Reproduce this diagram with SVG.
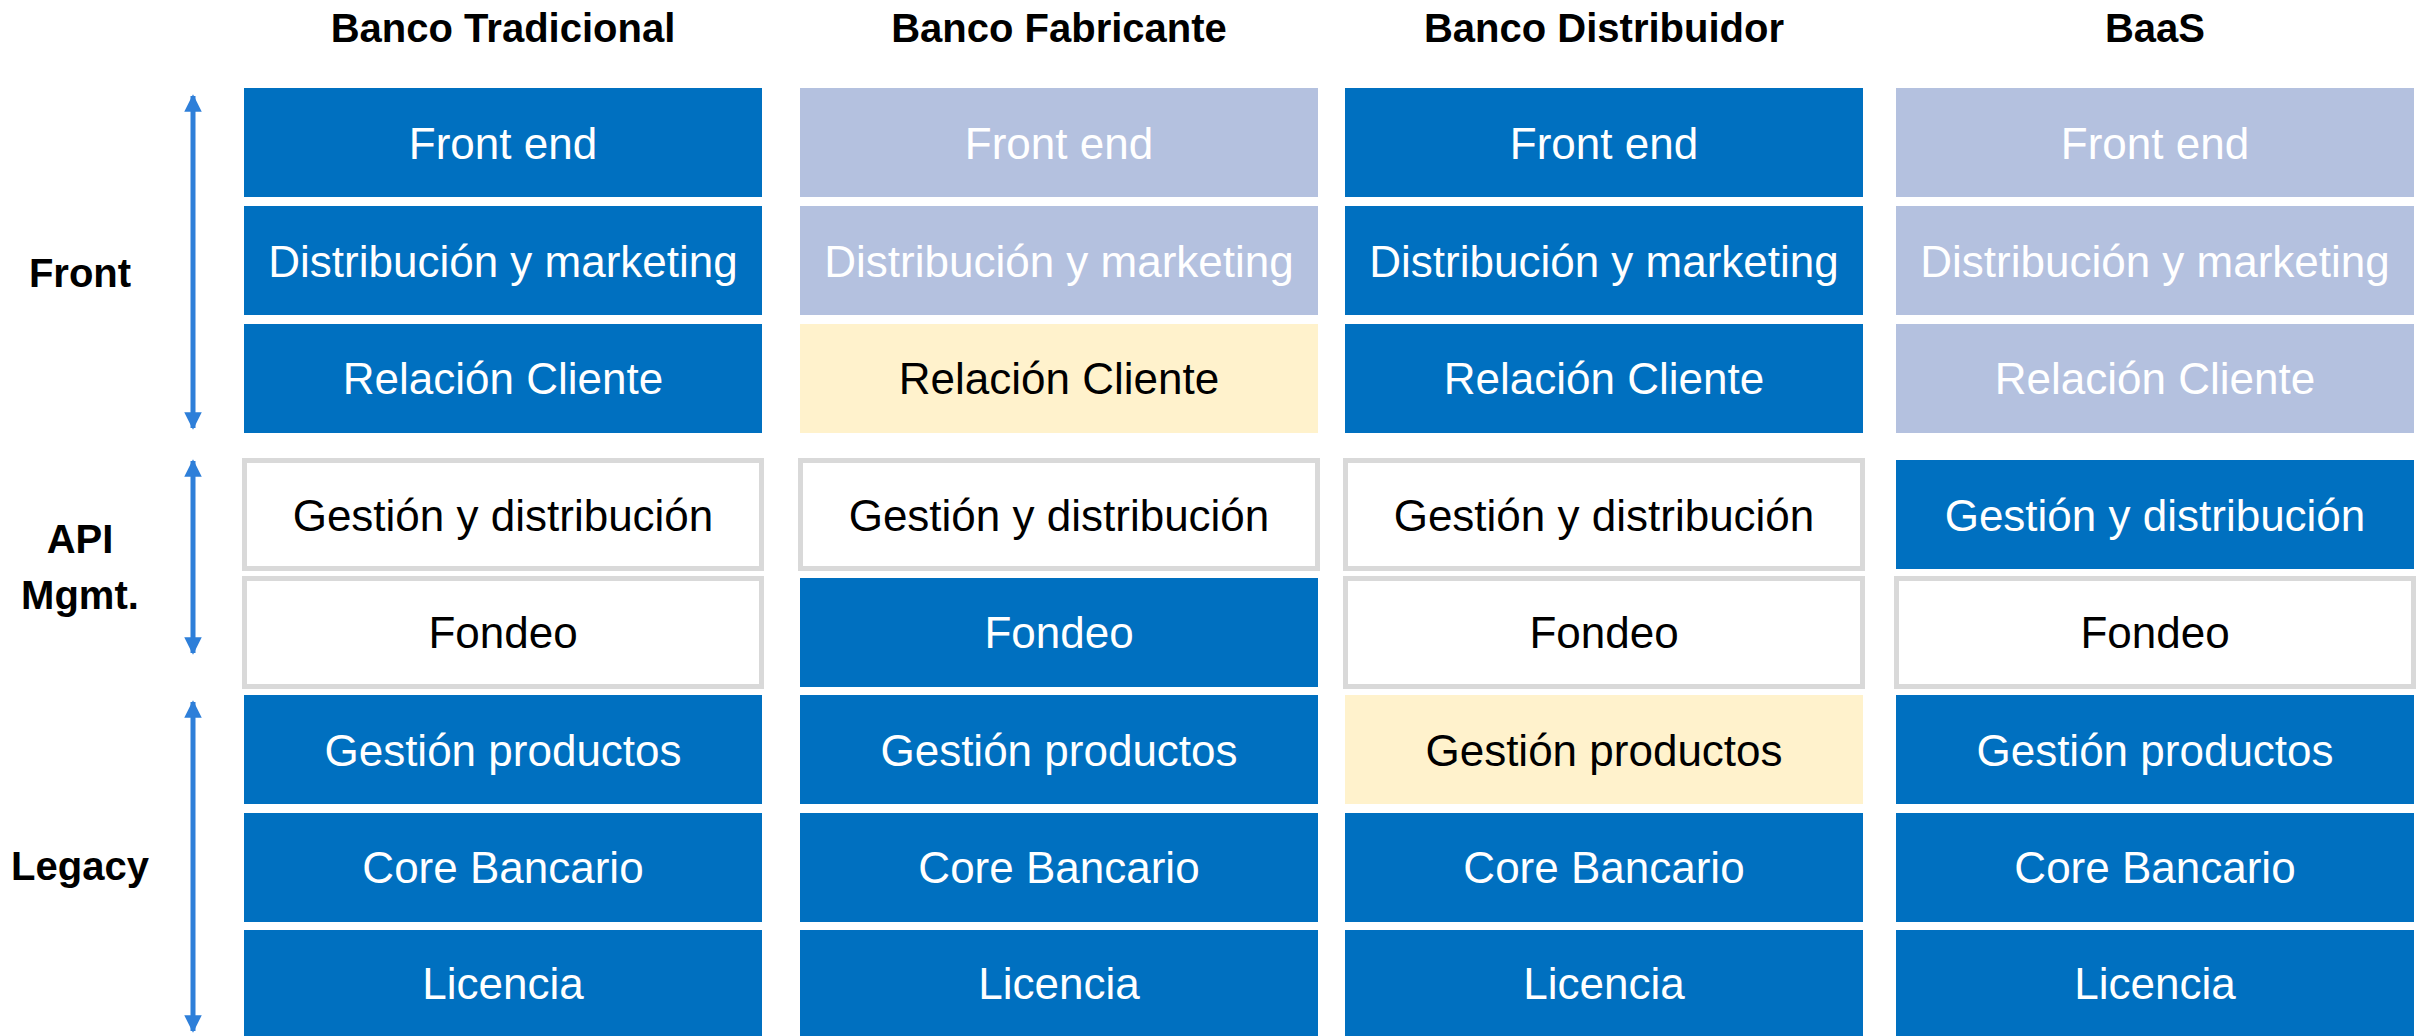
<svg xmlns="http://www.w3.org/2000/svg" width="2425" height="1036" viewBox="0 0 2425 1036">
<defs>
<style>
.hdr{font-family:"Liberation Sans",Arial,sans-serif;font-weight:bold;font-size:40px;fill:#000;text-anchor:middle}
.lbl{font-family:"Liberation Sans",Arial,sans-serif;font-size:44px;text-anchor:middle}
.blue{fill:#0070C0}
.lav{fill:#B4C1DF}
.yel{fill:#FFF2CC}
.gray{fill:#FFFFFF;stroke:#D9D9D9;stroke-width:5}
.w{fill:#FFFFFF}
.k{fill:#000000}
.conn{stroke:#2E7FD9;stroke-width:5;fill:none}
</style>
<marker id="ah" viewBox="0 0 10 10" refX="9" refY="5" markerWidth="3.5" markerHeight="3.5" markerUnits="strokeWidth" orient="auto-start-reverse">
<path d="M0,0 L10,5 L0,10 z" fill="#2E7FD9"/>
</marker>
</defs>
<rect width="2425" height="1036" fill="#FFFFFF"/>

<g id="headers">
<text class="hdr" x="503" y="42">Banco Tradicional</text>
<text class="hdr" x="1059" y="42">Banco Fabricante</text>
<text class="hdr" x="1604" y="42">Banco Distribuidor</text>
<text class="hdr" x="2155" y="42">BaaS</text>
</g>

<g id="layer-labels">
<text class="hdr" x="80" y="287">Front</text>
<text class="hdr" x="80" y="553">API</text>
<text class="hdr" x="80" y="609">Mgmt.</text>
<text class="hdr" x="80" y="880">Legacy</text>
</g>

<g id="connectors">
<line class="conn" x1="193" y1="96" x2="193" y2="428" marker-start="url(#ah)" marker-end="url(#ah)"/>
<line class="conn" x1="193" y1="461" x2="193" y2="653" marker-start="url(#ah)" marker-end="url(#ah)"/>
<line class="conn" x1="193" y1="702" x2="193" y2="1031" marker-start="url(#ah)" marker-end="url(#ah)"/>
</g>

<!-- Column 1: Banco Tradicional -->
<g id="c1-front-end"><rect class="blue" x="244" y="88" width="518" height="109"/><text class="lbl w" x="503" y="159">Front end</text></g>
<g id="c1-distribucion"><rect class="blue" x="244" y="206" width="518" height="109"/><text class="lbl w" x="503" y="277">Distribución y marketing</text></g>
<g id="c1-relacion"><rect class="blue" x="244" y="324" width="518" height="109"/><text class="lbl w" x="503" y="394">Relación Cliente</text></g>
<g id="c1-gestion-dist"><rect class="gray" x="244.5" y="460.5" width="517" height="108"/><text class="lbl k" x="503" y="531">Gestión y distribución</text></g>
<g id="c1-fondeo"><rect class="gray" x="244.5" y="578.5" width="517" height="108"/><text class="lbl k" x="503" y="648">Fondeo</text></g>
<g id="c1-gestion-prod"><rect class="blue" x="244" y="695" width="518" height="109"/><text class="lbl w" x="503" y="766">Gestión productos</text></g>
<g id="c1-core"><rect class="blue" x="244" y="813" width="518" height="109"/><text class="lbl w" x="503" y="883">Core Bancario</text></g>
<g id="c1-licencia"><rect class="blue" x="244" y="930" width="518" height="109"/><text class="lbl w" x="503" y="999">Licencia</text></g>

<!-- Column 2: Banco Fabricante -->
<g id="c2-front-end"><rect class="lav" x="800" y="88" width="518" height="109"/><text class="lbl w" x="1059" y="159">Front end</text></g>
<g id="c2-distribucion"><rect class="lav" x="800" y="206" width="518" height="109"/><text class="lbl w" x="1059" y="277">Distribución y marketing</text></g>
<g id="c2-relacion"><rect class="yel" x="800" y="324" width="518" height="109"/><text class="lbl k" x="1059" y="394">Relación Cliente</text></g>
<g id="c2-gestion-dist"><rect class="gray" x="800.5" y="460.5" width="517" height="108"/><text class="lbl k" x="1059" y="531">Gestión y distribución</text></g>
<g id="c2-fondeo"><rect class="blue" x="800" y="578" width="518" height="109"/><text class="lbl w" x="1059" y="648">Fondeo</text></g>
<g id="c2-gestion-prod"><rect class="blue" x="800" y="695" width="518" height="109"/><text class="lbl w" x="1059" y="766">Gestión productos</text></g>
<g id="c2-core"><rect class="blue" x="800" y="813" width="518" height="109"/><text class="lbl w" x="1059" y="883">Core Bancario</text></g>
<g id="c2-licencia"><rect class="blue" x="800" y="930" width="518" height="109"/><text class="lbl w" x="1059" y="999">Licencia</text></g>

<!-- Column 3: Banco Distribuidor -->
<g id="c3-front-end"><rect class="blue" x="1345" y="88" width="518" height="109"/><text class="lbl w" x="1604" y="159">Front end</text></g>
<g id="c3-distribucion"><rect class="blue" x="1345" y="206" width="518" height="109"/><text class="lbl w" x="1604" y="277">Distribución y marketing</text></g>
<g id="c3-relacion"><rect class="blue" x="1345" y="324" width="518" height="109"/><text class="lbl w" x="1604" y="394">Relación Cliente</text></g>
<g id="c3-gestion-dist"><rect class="gray" x="1345.5" y="460.5" width="517" height="108"/><text class="lbl k" x="1604" y="531">Gestión y distribución</text></g>
<g id="c3-fondeo"><rect class="gray" x="1345.5" y="578.5" width="517" height="108"/><text class="lbl k" x="1604" y="648">Fondeo</text></g>
<g id="c3-gestion-prod"><rect class="yel" x="1345" y="695" width="518" height="109"/><text class="lbl k" x="1604" y="766">Gestión productos</text></g>
<g id="c3-core"><rect class="blue" x="1345" y="813" width="518" height="109"/><text class="lbl w" x="1604" y="883">Core Bancario</text></g>
<g id="c3-licencia"><rect class="blue" x="1345" y="930" width="518" height="109"/><text class="lbl w" x="1604" y="999">Licencia</text></g>

<!-- Column 4: BaaS -->
<g id="c4-front-end"><rect class="lav" x="1896" y="88" width="518" height="109"/><text class="lbl w" x="2155" y="159">Front end</text></g>
<g id="c4-distribucion"><rect class="lav" x="1896" y="206" width="518" height="109"/><text class="lbl w" x="2155" y="277">Distribución y marketing</text></g>
<g id="c4-relacion"><rect class="lav" x="1896" y="324" width="518" height="109"/><text class="lbl w" x="2155" y="394">Relación Cliente</text></g>
<g id="c4-gestion-dist"><rect class="blue" x="1896" y="460" width="518" height="109"/><text class="lbl w" x="2155" y="531">Gestión y distribución</text></g>
<g id="c4-fondeo"><rect class="gray" x="1896.5" y="578.5" width="517" height="108"/><text class="lbl k" x="2155" y="648">Fondeo</text></g>
<g id="c4-gestion-prod"><rect class="blue" x="1896" y="695" width="518" height="109"/><text class="lbl w" x="2155" y="766">Gestión productos</text></g>
<g id="c4-core"><rect class="blue" x="1896" y="813" width="518" height="109"/><text class="lbl w" x="2155" y="883">Core Bancario</text></g>
<g id="c4-licencia"><rect class="blue" x="1896" y="930" width="518" height="109"/><text class="lbl w" x="2155" y="999">Licencia</text></g>
</svg>
